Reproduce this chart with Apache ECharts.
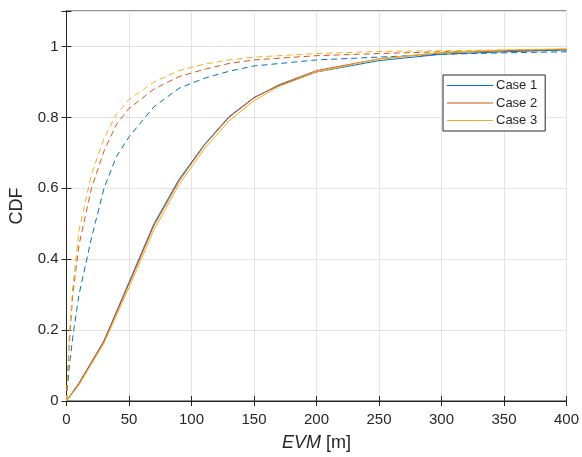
<!DOCTYPE html>
<html>
<head>
<meta charset="utf-8">
<script src="https://cdn.jsdelivr.net/npm/echarts@6/dist/echarts.min.js"></script>
<style>
html,body{margin:0;padding:0;background:#fff;}
#c{width:582px;height:457px;}
</style>
</head>
<body>
<div id="c"></div>
<script>
// ---- data ----
const caseNames = ['Case 1', 'Case 2', 'Case 3'];
const solidX = [0, 10, 30, 50, 70, 90, 110, 130, 150, 170, 200, 250, 300, 350, 400];
const solidCase1 = [0, 0.05, 0.17, 0.335, 0.5, 0.625, 0.722, 0.802, 0.856, 0.89, 0.928, 0.96, 0.978, 0.985, 0.99];
const solidCase2 = [0, 0.05, 0.168, 0.33, 0.495, 0.62, 0.72, 0.8, 0.855, 0.892, 0.932, 0.965, 0.982, 0.988, 0.992];
const solidCase3 = [0, 0.045, 0.163, 0.32, 0.483, 0.61, 0.71, 0.79, 0.847, 0.887, 0.928, 0.965, 0.983, 0.99, 0.993];
const dashX = [0, 2, 5, 10, 20, 30, 40, 50, 70, 90, 110, 130, 150, 200, 250, 300, 350, 400];
const dashCase1 = [0, 0.09, 0.18, 0.3, 0.46, 0.6, 0.69, 0.745, 0.83, 0.882, 0.91, 0.93, 0.945, 0.962, 0.97, 0.978, 0.982, 0.985];
const dashCase2 = [0, 0.15, 0.3, 0.44, 0.6, 0.705, 0.78, 0.825, 0.88, 0.915, 0.935, 0.952, 0.962, 0.974, 0.98, 0.985, 0.988, 0.99];
const dashCase3 = [0, 0.17, 0.32, 0.48, 0.64, 0.74, 0.81, 0.85, 0.9, 0.932, 0.95, 0.962, 0.97, 0.98, 0.986, 0.988, 0.99, 0.992];
const xTicks = [0, 50, 100, 150, 200, 250, 300, 350, 400];
const yTicks = [0, 0.2, 0.4, 0.6, 0.8, 1];

const colors = ['#0072BD', '#D95319', '#EDB120'];
const zip = (xs, ys) => xs.map((x, i) => [x, ys[i]]);
const solids = [solidCase1, solidCase2, solidCase3];
const dashes = [dashCase1, dashCase2, dashCase3];

const series = [];
solids.forEach((s, i) => series.push({
  name: caseNames[i], type: 'line', data: zip(solidX, s), symbol: 'none',
  lineStyle: {color: colors[i], width: 1}, itemStyle: {color: colors[i]}, z: 3, animation: false
}));
dashes.forEach((s, i) => series.push({
  name: caseNames[i] + ' dashed', type: 'line', data: zip(dashX, s), symbol: 'none',
  lineStyle: {color: colors[i], width: 1, type: [6, 4]}, itemStyle: {color: colors[i]}, z: 2, animation: false
}));

const axisCol = '#262626';
const fmt = v => (Math.abs(v - 1.1) < 1e-6 ? '' : String(Math.round(v * 10) / 10));
const chart = echarts.init(document.getElementById('c'));
chart.setOption({
  animation: false,
  backgroundColor: '#fff',
  color: colors,
  grid: {left: 66.5, right: 14, top: 11, bottom: 51, show: true, borderColor: axisCol, borderWidth: 1, containLabel: false},
  legend: {
    data: caseNames, orient: 'vertical', left: 443, top: 75,
    padding: [4, 8, 4, 4], itemGap: 4.5, itemWidth: 46, itemHeight: 14,
    backgroundColor: '#fff', borderColor: axisCol, borderWidth: 1, borderRadius: 0,
    icon: 'path://M0,0H46V1H0Z',
    textStyle: {fontFamily: 'Liberation Sans, Arial', fontSize: 13, color: axisCol, padding: [0, 0, 0, -2]}
  },
  xAxis: [{
    type: 'value', min: 0, max: 400, interval: 50,
    name: '{i|EVM} [m]', nameLocation: 'middle', nameGap: 33,
    nameTextStyle: {fontFamily: 'Liberation Sans, Arial', fontSize: 18, color: axisCol, rich: {i: {fontStyle: 'italic', fontSize: 18, fontFamily: 'Liberation Sans, Arial', color: axisCol}}},
    axisLine: {show: true, lineStyle: {color: axisCol}},
    axisTick: {show: true, inside: true, length: 5, lineStyle: {color: axisCol}},
    axisLabel: {fontFamily: 'Liberation Sans, Arial', fontSize: 15, color: axisCol, margin: 11},
    splitLine: {show: true, lineStyle: {color: '#e3e3e3', width: 1}}
  }, {
    type: 'value', position: 'top', min: 0, max: 400, interval: 50,
    axisLine: {show: true, lineStyle: {color: axisCol}},
    axisTick: {show: true, inside: true, length: 5, lineStyle: {color: axisCol}},
    axisLabel: {show: false}, splitLine: {show: false}
  }],
  yAxis: [{
    type: 'value', min: 0, max: 1.1, interval: 0.2,
    name: 'CDF', nameLocation: 'middle', nameGap: 40,
    nameTextStyle: {fontFamily: 'Liberation Sans, Arial', fontSize: 18, color: axisCol},
    axisLine: {show: true, lineStyle: {color: axisCol}},
    axisTick: {show: true, inside: true, length: 5, lineStyle: {color: axisCol}},
    axisLabel: {fontFamily: 'Liberation Sans, Arial', fontSize: 15, color: axisCol, margin: 8, formatter: fmt},
    splitLine: {show: true, lineStyle: {color: '#e3e3e3', width: 1}}
  }, {
    type: 'value', position: 'right', min: 0, max: 1.1, interval: 0.2,
    axisLine: {show: true, lineStyle: {color: axisCol}},
    axisTick: {show: true, inside: true, length: 5, lineStyle: {color: axisCol}},
    axisLabel: {show: false}, splitLine: {show: false}
  }],
  series: series
});
</script>
</body>
</html>
